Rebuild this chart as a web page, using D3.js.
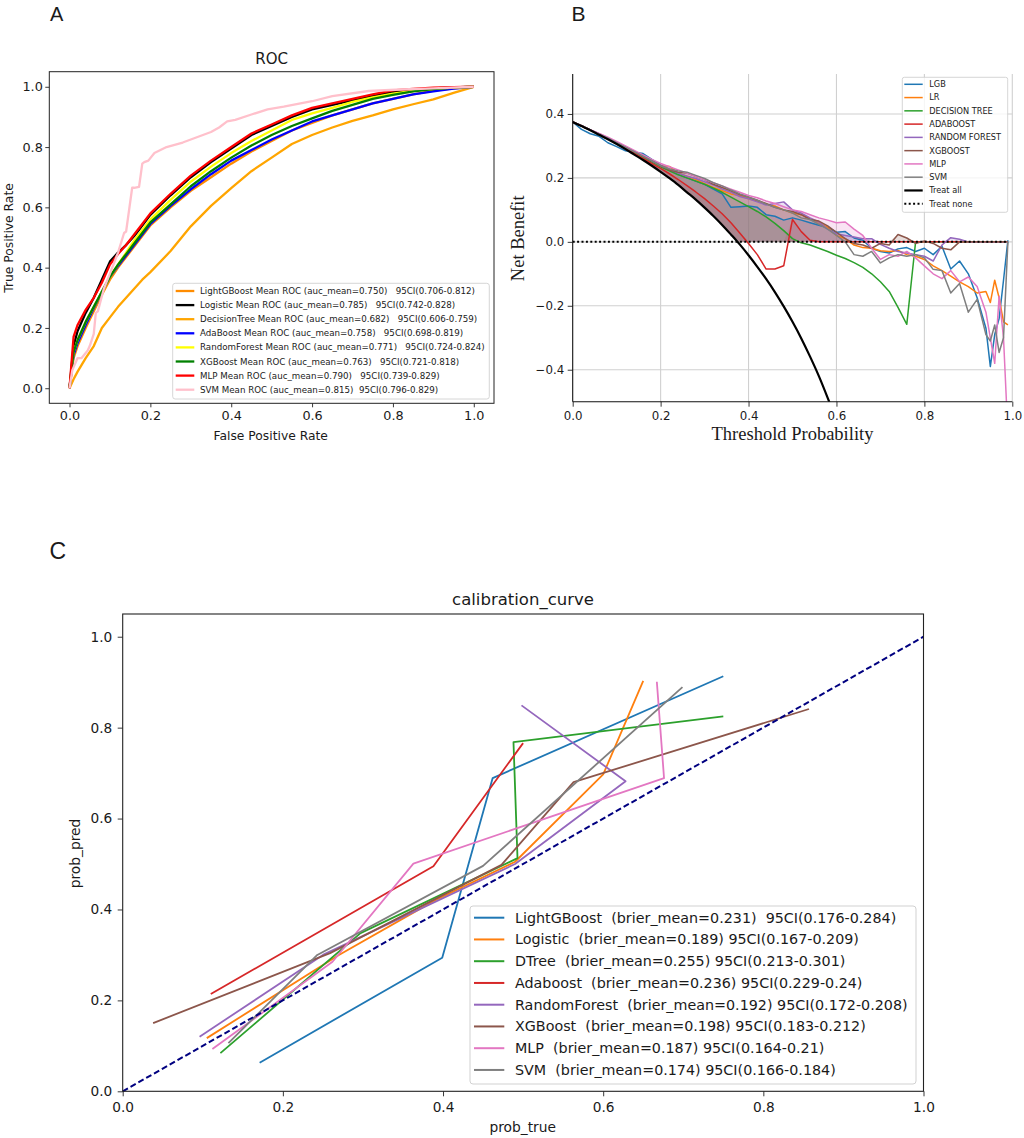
<!DOCTYPE html>
<html>
<head>
<meta charset="utf-8">
<script src="https://cdn.jsdelivr.net/npm/d3@7"></script>
<style>
  body { margin: 0; background: #fff; }
  svg text { font-family: "DejaVu Sans", sans-serif; fill: #1a1a1a; }
</style>
</head>
<body>
<svg id="fig" width="1024" height="1138"></svg>
<script>
// ================= data =================

// --- panel A : mean ROC curves ---
const rocModels = ["LightGBoost", "Logistic", "DecisionTree", "AdaBoost", "RandomForest", "XGBoost", "MLP", "SVM"];
const rocColors = ["darkorange", "black", "orange", "blue", "yellow", "green", "red", "pink"];
const rocAuc = ["0.750", "0.785", "0.682", "0.758", "0.771", "0.763", "0.790", "0.815"];
const rocCI = ["0.706-0.812", "0.742-0.828", "0.606-0.759", "0.698-0.819", "0.724-0.824", "0.721-0.818", "0.739-0.829", "0.796-0.829"];
const rocTicks = [0, 0.2, 0.4, 0.6, 0.8, 1.0];

const fprGrid = [0, .01, .02, .04, .06, .08, .10, .12, .14, .16, .18, .20, .25, .30, .35, .40, .45, .50, .55, .60, .65, .70, .75, .80, .85, .90, .95, 1.0];
const tprLightGBoost = [0, .10, .14, .20, .255, .31, .36, .40, .435, .47, .505, .54, .60, .655, .70, .745, .785, .82, .855, .88, .905, .925, .945, .96, .975, .987, .995, 1];
const tprLogistic = [0, .14, .19, .25, .30, .36, .42, .45, .475, .505, .54, .575, .64, .70, .75, .795, .84, .87, .90, .925, .94, .955, .97, .983, .99, .995, .998, 1];
const tprDecisionTree = [0, .03, .055, .10, .14, .20, .235, .27, .30, .33, .36, .385, .455, .537, .605, .664, .72, .765, .81, .84, .865, .887, .905, .925, .942, .958, .98, 1];
const tprAdaBoost = [0, .11, .15, .21, .265, .32, .37, .405, .44, .475, .51, .545, .605, .66, .71, .755, .79, .825, .855, .885, .905, .925, .945, .96, .975, .985, .994, 1];
const tprRandomForest = [0, .12, .16, .22, .27, .32, .37, .41, .45, .49, .525, .56, .625, .685, .735, .78, .82, .855, .89, .912, .93, .95, .965, .977, .986, .993, .997, 1];
const tprXGBoost = [0, .12, .16, .22, .27, .32, .37, .41, .445, .48, .515, .55, .61, .67, .72, .765, .805, .84, .87, .895, .92, .94, .96, .973, .985, .992, .997, 1];
const tprMLP = [0, .17, .21, .26, .30, .35, .41, .445, .475, .51, .545, .58, .645, .705, .755, .80, .845, .875, .905, .93, .945, .96, .975, .988, .993, .997, .999, 1];
const svmFpr = [0, .007, .02, .03, .045, .05, .06, .065, .07, .085, .10, .12, .135, .14, .155, .16, .172, .18, .185, .195, .21, .24, .28, .32, .35, .37, .39, .41, .45, .49, .53, .60, .65, .74, .82, .90, 1];
const svmTpr = [0, .06, .10, .10, .125, .14, .18, .25, .255, .33, .38, .45, .515, .52, .665, .665, .668, .745, .75, .755, .78, .80, .815, .835, .85, .865, .885, .89, .908, .925, .934, .952, .969, .986, .991, .995, 1];

// --- panel B : decision curves ---
const dcaLabels = ["LGB", "LR", "DECISION TREE", "ADABOOST", "RANDOM FOREST", "XGBOOST", "MLP", "SVM"];
const tab10 = ["#1f77b4", "#ff7f0e", "#2ca02c", "#d62728", "#9467bd", "#8c564b", "#e377c2", "#7f7f7f"];
const dcaXTicks = [0, 0.2, 0.4, 0.6, 0.8, 1.0];
const dcaYTicks = [-0.4, -0.2, 0, 0.2, 0.4];
const thresholds = [0, .02, .04, .06, .08, .10, .12, .14, .16, .18, .20, .22, .24, .26, .28, .30, .32, .34, .36, .38, .40,
  .42, .44, .46, .48, .50, .52, .54, .56, .58, .60, .62, .64, .66, .68, .70, .72, .74, .76, .78, .80, .82, .84, .86, .88,
  .90, .92, .94, .95, .96, .97, .98, .99];
const nbLGB = [.375, .352, .338, .330, .310, .298, .285, .280, .276, .258, .240, .225, .212, .200, .190, .180, .165, .150, .108, .110, .112,
  .108, .085, .080, .068, .075, .068, .060, .052, .045, .030, .032, .012, .005, -.020, -.030, -.035, -.022, -.018, -.030, -.020, -.040, -.014, -.085, -.060,
  -.100, -.175, -.270, -.390, -.290, -.240, -.120, .005];
const nbLR = [.375, .363, .350, .337, .324, .310, .296, .281, .266, .251, .238, .236, .215, .205, .195, .182, .170, .160, .150, .145, .135,
  .128, .118, .112, .100, .090, .085, .072, .060, .045, .020, .010, -.010, -.018, -.020, -.028, -.030, -.027, -.040, -.045, -.055, -.075, -.090, -.107, -.125,
  -.140, -.160, -.155, -.190, -.120, -.175, -.250, -.260];
const nbDT = [.375, .362, .350, .335, .322, .310, .295, .280, .265, .250, .235, .222, .210, .200, .190, .180, .168, .155, .140, .125, .110,
  .095, .078, .058, .035, .010, -.003, -.010, -.020, -.030, -.042, -.052, -.065, -.080, -.100, -.125, -.155, -.205, -.258, 0, 0, 0, 0, 0, 0,
  0, 0, 0, 0, 0, 0, 0, 0];
const nbADA = [.375, .362, .350, .336, .322, .308, .293, .277, .261, .245, .230, .213, .195, .176, .156, .135, .112, .088, .060, .028, -.005,
  -.040, -.085, -.085, -.075, .070, .032, .005, 0, 0, 0, 0, 0, 0, 0, 0, 0, 0, 0, 0, 0, 0, 0, 0, 0,
  0, 0, 0, 0, 0, 0, 0, 0];
const nbRF = [.375, .363, .350, .338, .325, .312, .298, .283, .268, .253, .240, .228, .215, .205, .198, .188, .178, .165, .155, .142, .135,
  .125, .115, .120, .125, .100, .090, .075, .062, .040, .025, .020, .015, .010, .010, -.008, -.020, -.030, -.035, -.040, -.045, -.060, -.010, .013, .008,
  0, 0, 0, 0, 0, 0, 0, 0];
const nbXGB = [.375, .363, .350, .338, .325, .310, .296, .282, .268, .254, .238, .225, .218, .215, .205, .195, .180, .170, .160, .148, .140,
  .130, .120, .108, .100, .095, .085, .070, .065, .050, .030, .010, -.005, -.010, -.020, -.005, -.010, .023, .012, -.005, .003, -.005, -.020, -.025, 0,
  0, 0, 0, 0, 0, 0, 0, 0];
const nbMLP = [.375, .363, .351, .339, .327, .314, .300, .286, .272, .258, .245, .235, .225, .215, .205, .195, .185, .175, .165, .155, .145,
  .138, .128, .120, .110, .100, .095, .085, .075, .068, .060, .062, .040, .020, -.020, -.055, -.040, -.045, -.030, -.050, -.075, -.100, -.115, -.090, -.125,
  -.110, -.140, -.220, -.300, -.380, -.170, -.300, -.600];
const nbSVM = [.375, .363, .350, .337, .324, .310, .296, .282, .268, .254, .238, .228, .222, .218, .208, .198, .185, .175, .162, .150, .140,
  .130, .118, .108, .100, .090, .075, .070, .055, .040, .020, .000, -.040, -.045, -.030, -.066, -.050, -.040, -.045, -.040, -.050, -.086, -.090, -.160, -.130,
  -.220, -.180, -.290, -.310, -.260, -.346, -.300, 0];
// treat all, read on the same thresholds up to 0.60
const treatAll = [.375, .362, .349, .335, .321, .306, .290, .273, .256, .238, .219, .199, .178, .155, .132, .107, .081, .053, .023, -.008, -.042,
  -.078, -.116, -.157, -.202, -.250, -.302, -.359, -.420, -.488, -.560];
const treatNoneX = [0, 0.99];
const treatNoneY = [0, 0];

// --- panel C : calibration curves ---
const calModels = ["LightGBoost", "Logistic", "DTree", "Adaboost", "RandomForest", "XGBoost", "MLP", "SVM"];
const calBrier = ["0.231", "0.189", "0.255", "0.236", "0.192", "0.198", "0.187", "0.174"];
const calCI = ["0.176-0.284", "0.167-0.209", "0.213-0.301", "0.229-0.24", "0.172-0.208", "0.183-0.212", "0.164-0.21", "0.166-0.184"];
const calTicks = [0, 0.2, 0.4, 0.6, 0.8, 1.0];
const calTrue = [
  [.171, .399, .462, .750],
  [.105, .27, .39, .49, .60, .65],
  [.122, .297, .493, .488, .750],
  [.110, .388, .500],
  [.096, .25, .49, .628, .498],
  [.038, .259, .473, .563, .857],
  [.112, .262, .363, .676, .667],
  [.132, .243, .450, .699]
];
const calPred = [
  [.063, .294, .689, .913],
  [.117, .30, .42, .505, .697, .903],
  [.084, .348, .513, .768, .825],
  [.214, .495, .766],
  [.120, .30, .50, .682, .849],
  [.150, .304, .498, .680, .841],
  [.093, .285, .501, .689, .901],
  [.106, .300, .496, .889]
];
const diagonal = [0, 1];

// ================= drawing =================
const svg = d3.select("#fig");
const fmt1 = d3.format(".1f");

function axisStyle(g, size) {
  g.select(".domain").remove();
  g.selectAll(".tick line").attr("stroke", "#222").attr("stroke-width", 0.9);
  g.selectAll(".tick text").style("font-size", size + "px").attr("fill", "#222");
}

// panel letters
svg.append("text").attr("x", 50).attr("y", 21).text("A").style("font-family", "Liberation Sans, Arial, sans-serif").style("font-size", "20px");
svg.append("text").attr("x", 571.5).attr("y", 20.7).text("B").style("font-family", "Liberation Sans, Arial, sans-serif").style("font-size", "21px");
svg.append("text").attr("x", 49.5).attr("y", 559).text("C").style("font-family", "Liberation Sans, Arial, sans-serif").style("font-size", "23px");

// ---------- A ----------
{
  const g = svg.append("g");
  const x = d3.scaleLinear().domain([-0.05, 1.05]).range([49.3, 494]);
  const y = d3.scaleLinear().domain([-0.05, 1.05]).range([403.3, 71.7]);

  g.append("g").attr("transform", `translate(0,${y.range()[0]})`)
    .call(d3.axisBottom(x).tickValues(rocTicks).tickFormat(fmt1).tickSize(4).tickPadding(4))
    .call(axisStyle, 12.8);
  g.append("g").attr("transform", `translate(${x.range()[0]},0)`)
    .call(d3.axisLeft(y).tickValues(rocTicks).tickFormat(fmt1).tickSize(4).tickPadding(2.5))
    .call(axisStyle, 12.8);

  const rocFpr = [fprGrid, fprGrid, fprGrid, fprGrid, fprGrid, fprGrid, fprGrid, svmFpr];
  const rocTpr = [tprLightGBoost, tprLogistic, tprDecisionTree, tprAdaBoost, tprRandomForest, tprXGBoost, tprMLP, svmTpr];
  const line = d3.line().x(d => x(d[0])).y(d => y(d[1]));
  rocModels.forEach((m, i) => {
    g.append("path").datum(d3.zip(rocFpr[i], rocTpr[i]))
      .attr("d", line).attr("fill", "none")
      .attr("stroke", rocColors[i]).attr("stroke-width", 2.3).attr("stroke-linejoin", "round");
  });

  g.append("rect").attr("x", 49.3).attr("y", 71.7).attr("width", 444.7).attr("height", 331.6)
    .attr("fill", "none").attr("stroke", "#222").attr("stroke-width", 1);

  g.append("text").attr("x", 271.6).attr("y", 64.3).attr("text-anchor", "middle").style("font-size", "15px").text("ROC");
  g.append("text").attr("x", 270.7).attr("y", 439.5).attr("text-anchor", "middle").style("font-size", "12.3px").text("False Positive Rate");
  g.append("text").attr("transform", "translate(13.3,238) rotate(-90)").attr("text-anchor", "middle").style("font-size", "12.3px").text("True Positive Rate");

  // legend
  const lg = g.append("g");
  lg.append("rect").attr("x", 172.7).attr("y", 283.3).attr("width", 316.6).attr("height", 115.7).attr("rx", 2.5)
    .attr("fill", "white").attr("fill-opacity", 0.8).attr("stroke", "#cccccc").attr("stroke-width", 0.8);
  rocModels.forEach((m, i) => {
    const yy = 291 + i * 14.1;
    lg.append("line").attr("x1", 175.7).attr("x2", 194.3).attr("y1", yy).attr("y2", yy)
      .attr("stroke", rocColors[i]).attr("stroke-width", 2.3);
    const gap = m === "SVM" ? "  " : "   ";
    lg.append("text").attr("x", 200).attr("y", yy).attr("dy", "0.35em").style("font-size", "8.7px").style("white-space", "pre")
      .text(`${m} Mean ROC (auc_mean=${rocAuc[i]})${gap}95CI(${rocCI[i]})`);
  });
}

// ---------- B ----------
{
  const g = svg.append("g");
  const x = d3.scaleLinear().domain([0, 1]).range([572.7, 1012.3]);
  const y = d3.scaleLinear().domain([-0.5, 0.525]).range([401.7, 74]);

  svg.append("defs").append("clipPath").attr("id", "clipB")
    .append("rect").attr("x", 572.7).attr("y", 74).attr("width", 439.6).attr("height", 327.7);

  // grid
  g.append("g").selectAll("line").data(dcaXTicks.slice(1)).join("line")
    .attr("x1", d => x(d)).attr("x2", d => x(d)).attr("y1", 74).attr("y2", 401.7)
    .attr("stroke", "#d0d0d0").attr("stroke-width", 1.1);
  g.append("g").selectAll("line").data(dcaYTicks).join("line")
    .attr("x1", 572.7).attr("x2", 1012.3).attr("y1", d => y(d)).attr("y2", d => y(d))
    .attr("stroke", "#d0d0d0").attr("stroke-width", 1.1);

  const plot = g.append("g").attr("clip-path", "url(#clipB)");
  const nbAll = [nbLGB, nbLR, nbDT, nbADA, nbRF, nbXGB, nbMLP, nbSVM];
  const base = thresholds.map((t, j) => Math.max(j < treatAll.length ? treatAll[j] : 0, 0));

  const area = d3.area()
    .x((d, j) => x(thresholds[j]))
    .y0((d, j) => y(base[j]))
    .y1((d, j) => y(Math.max(d, base[j])));
  nbAll.forEach((vals, i) => {
    plot.append("path").datum(vals).attr("d", area).attr("fill", tab10[i]).attr("fill-opacity", 0.2);
  });

  const line = d3.line().x((d, j) => x(thresholds[j])).y(d => y(d));
  nbAll.forEach((vals, i) => {
    plot.append("path").datum(vals).attr("d", line).attr("fill", "none")
      .attr("stroke", tab10[i]).attr("stroke-width", 1.5).attr("stroke-linejoin", "round");
  });

  const allLine = d3.line().curve(d3.curveMonotoneX).x((d, j) => x(thresholds[j])).y(d => y(d));
  plot.append("path").datum(treatAll).attr("d", allLine).attr("fill", "none")
    .attr("stroke", "black").attr("stroke-width", 2.2);
  plot.append("path").datum(d3.zip(treatNoneX, treatNoneY))
    .attr("d", d3.line().x(d => x(d[0])).y(d => y(d[1])))
    .attr("fill", "none").attr("stroke", "black").attr("stroke-width", 2).attr("stroke-dasharray", "2,2.4");

  // axes
  g.append("g").attr("transform", `translate(0,401.7)`)
    .call(d3.axisBottom(x).tickValues(dcaXTicks).tickFormat(fmt1).tickSize(5).tickPadding(5))
    .call(axisStyle, 11.8);
  g.append("g").attr("transform", `translate(572.7,0)`)
    .call(d3.axisLeft(y).tickValues(dcaYTicks).tickFormat(fmt1).tickSize(5).tickPadding(3.5))
    .call(axisStyle, 11.8);
  g.append("line").attr("x1", 572.7).attr("x2", 572.7).attr("y1", 74).attr("y2", 401.7).attr("stroke", "#111").attr("stroke-width", 1.1);
  g.append("line").attr("x1", 572.7).attr("x2", 1012.3).attr("y1", 401.7).attr("y2", 401.7).attr("stroke", "#111").attr("stroke-width", 1.1);

  g.append("text").attr("x", 792.5).attr("y", 439.5).attr("text-anchor", "middle")
    .style("font-family", "Liberation Serif, Times New Roman, serif").style("font-size", "18.5px").text("Threshold Probability");
  g.append("text").attr("transform", "translate(524,238.3) rotate(-90)").attr("text-anchor", "middle")
    .style("font-family", "Liberation Serif, Times New Roman, serif").style("font-size", "18.5px").text("Net Benefit");

  // legend
  const lg = g.append("g");
  lg.append("rect").attr("x", 902.3).attr("y", 77.3).attr("width", 105.4).attr("height", 135).attr("rx", 2)
    .attr("fill", "white").attr("fill-opacity", 0.8).attr("stroke", "#cccccc").attr("stroke-width", 0.8);
  const legItems = dcaLabels.map((l, i) => ({ label: l, color: tab10[i], w: 1.5, dash: null }))
    .concat([{ label: "Treat all", color: "black", w: 2.2, dash: null }, { label: "Treat none", color: "black", w: 2, dash: "2,2.4" }]);
  legItems.forEach((d, i) => {
    const yy = 84.3 + i * 13.27;
    lg.append("line").attr("x1", 904.3).attr("x2", 922.7).attr("y1", yy).attr("y2", yy)
      .attr("stroke", d.color).attr("stroke-width", d.w).attr("stroke-dasharray", d.dash);
    lg.append("text").attr("x", 929.3).attr("y", yy).attr("dy", "0.35em").style("font-size", "8.2px").text(d.label);
  });
}

// ---------- C ----------
{
  const g = svg.append("g");
  const x = d3.scaleLinear().domain([0, 1]).range([122.7, 923.5]);
  const y = d3.scaleLinear().domain([0, 1.05]).range([1091.3, 614]);

  const line = d3.line().x(d => x(d[0])).y(d => y(d[1]));
  calModels.forEach((m, i) => {
    g.append("path").datum(d3.zip(calTrue[i], calPred[i])).attr("d", line).attr("fill", "none")
      .attr("stroke", tab10[i]).attr("stroke-width", 1.8).attr("stroke-linejoin", "round");
  });
  g.append("path").datum(d3.zip(diagonal, diagonal)).attr("d", line).attr("fill", "none")
    .attr("stroke", "#000080").attr("stroke-width", 2).attr("stroke-dasharray", "6,3");

  g.append("g").attr("transform", `translate(0,1091.3)`)
    .call(d3.axisBottom(x).tickValues(calTicks).tickFormat(fmt1).tickSize(5).tickPadding(5.5))
    .call(axisStyle, 13.7);
  g.append("g").attr("transform", `translate(122.7,0)`)
    .call(d3.axisLeft(y).tickValues(calTicks).tickFormat(fmt1).tickSize(5).tickPadding(5.5))
    .call(axisStyle, 13.7);

  g.append("rect").attr("x", 122.7).attr("y", 614).attr("width", 800.8).attr("height", 477.3)
    .attr("fill", "none").attr("stroke", "#222").attr("stroke-width", 1.1);

  g.append("text").attr("x", 523).attr("y", 605).attr("text-anchor", "middle").style("font-size", "16.5px").text("calibration_curve");
  g.append("text").attr("x", 522.7).attr("y", 1131.5).attr("text-anchor", "middle").style("font-size", "13.8px").text("prob_true");
  g.append("text").attr("transform", "translate(80,853.5) rotate(-90)").attr("text-anchor", "middle").style("font-size", "13.8px").text("prob_pred");

  const lg = g.append("g");
  lg.append("rect").attr("x", 470).attr("y", 906).attr("width", 446).attr("height", 178).attr("rx", 3)
    .attr("fill", "white").attr("fill-opacity", 0.8).attr("stroke", "#cccccc").attr("stroke-width", 0.9);
  calModels.forEach((m, i) => {
    const yy = 917.7 + i * 21.75;
    lg.append("line").attr("x1", 474).attr("x2", 504.3).attr("y1", yy).attr("y2", yy)
      .attr("stroke", tab10[i]).attr("stroke-width", 2);
    const gap = i === 0 ? "  " : " ";
    lg.append("text").attr("x", 515).attr("y", yy).attr("dy", "0.35em").style("font-size", "14.3px").style("white-space", "pre")
      .text(`${m}  (brier_mean=${calBrier[i]})${gap}95CI(${calCI[i]})`);
  });
}
</script>
</body>
</html>
